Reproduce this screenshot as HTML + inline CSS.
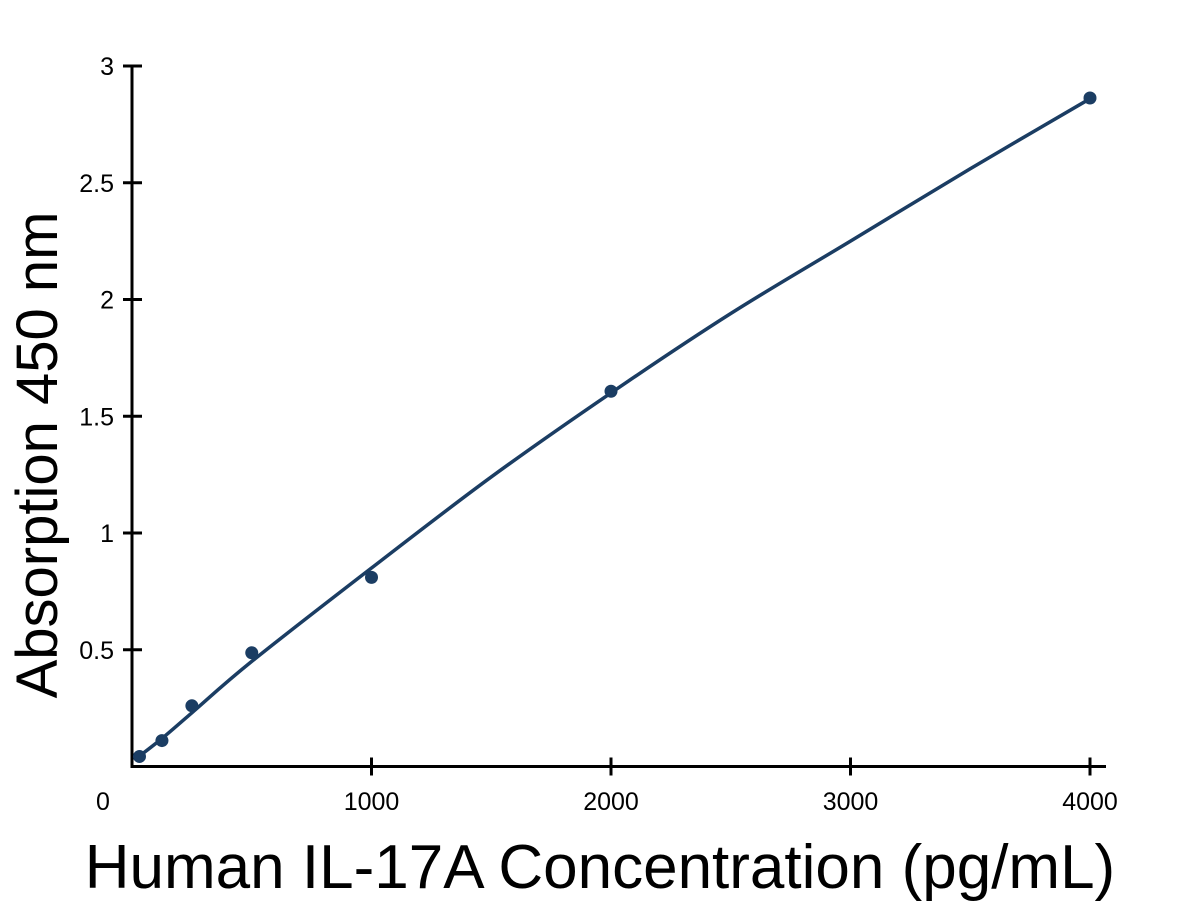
<!DOCTYPE html>
<html><head><meta charset="utf-8"><style>
body{margin:0;background:#fff;}
svg{display:block;font-family:"Liberation Sans",sans-serif;}
</style></head><body>
<svg id="chart" width="1200" height="912" viewBox="0 0 1200 912" xmlns="http://www.w3.org/2000/svg">
<g id="axes"></g>
<g id="marks"></g>
<text transform="translate(57,455) rotate(-90)" text-anchor="middle" font-size="58" fill="#000">Absorption 450 nm</text>
<text x="600" y="888" text-anchor="middle" font-size="62" fill="#000">Human IL-17A Concentration (pg/mL)</text>
</svg>
<script>
const concentrations=[31.25,125,250,500,1000,2000,4000];
const absorbance=[0.043,0.111,0.26,0.487,0.81,1.607,2.863];
const fitX=[25,125,250,500,1000,1500,2000,2500,3000,3500,4000];
const fitY=[0.04,0.12,0.23,0.45,0.85,1.24,1.6,1.94,2.25,2.56,2.86];
const xTicks=[0,1000,2000,3000,4000];
const xTickLabels=["0","1000","2000","3000","4000"];
const yTicks=[0.5,1,1.5,2,2.5,3];
const yTickLabels=["0.5","1","1.5","2","2.5","3"];
const X0=132,XS=0.2395,Y0=766.5,YS=233.5;
const sx=v=>X0+v*XS, sy=v=>Y0-v*YS;
const NS="http://www.w3.org/2000/svg";
const axes=document.getElementById('axes'),marks=document.getElementById('marks');
function mk(tag,attrs,parent){const e=document.createElementNS(NS,tag);for(const k in attrs)e.setAttribute(k,attrs[k]);parent.appendChild(e);return e;}
let l=mk('line',{x1:X0,y1:65,x2:X0,y2:Y0,stroke:'#000','stroke-width':3},axes);


l=mk('line',{x1:X0-1.5,y1:Y0,x2:1106,y2:Y0,stroke:'#000','stroke-width':3},axes);


xTicks.forEach((v,i)=>{
  if(v>0){const t=mk('line',{x1:sx(v),y1:Y0-9,x2:sx(v),y2:Y0+9,stroke:'#000','stroke-width':3},axes);
  
  }
  const tx=mk('text',{x:v===0?103:sx(v),y:810,'text-anchor':'middle','font-size':25,fill:'#000'},axes);
  tx.textContent=xTickLabels[i];
  
  
});
yTicks.forEach((v,i)=>{
  const t=mk('line',{x1:X0-9,y1:sy(v),x2:X0+10,y2:sy(v),stroke:'#000','stroke-width':3},axes);
  
  
  const tx=mk('text',{x:114,y:sy(v)+9,'text-anchor':'end','font-size':25,fill:'#000'},axes);
  tx.textContent=yTickLabels[i];
  
  
});
const P=fitX.map((v,i)=>[sx(v),sy(fitY[i])]);
let d='M'+P[0][0]+','+P[0][1];
for(let i=0;i<P.length-1;i++){
  const p0=P[Math.max(0,i-1)],p1=P[i],p2=P[i+1],p3=P[Math.min(P.length-1,i+2)];
  d+=' C'+(p1[0]+(p2[0]-p0[0])/6)+','+(p1[1]+(p2[1]-p0[1])/6)+' '+(p2[0]-(p3[0]-p1[0])/6)+','+(p2[1]-(p3[1]-p1[1])/6)+' '+p2[0]+','+p2[1];
}
const path=mk('path',{d:d,fill:'none',stroke:'#1b3d63','stroke-width':3.5},marks);


concentrations.forEach((c,i)=>{
  const pt=mk('circle',{cx:sx(c),cy:sy(absorbance[i]),r:6.5,fill:'#1b3d63'},marks);
  
  
});
</script>
</body></html>
